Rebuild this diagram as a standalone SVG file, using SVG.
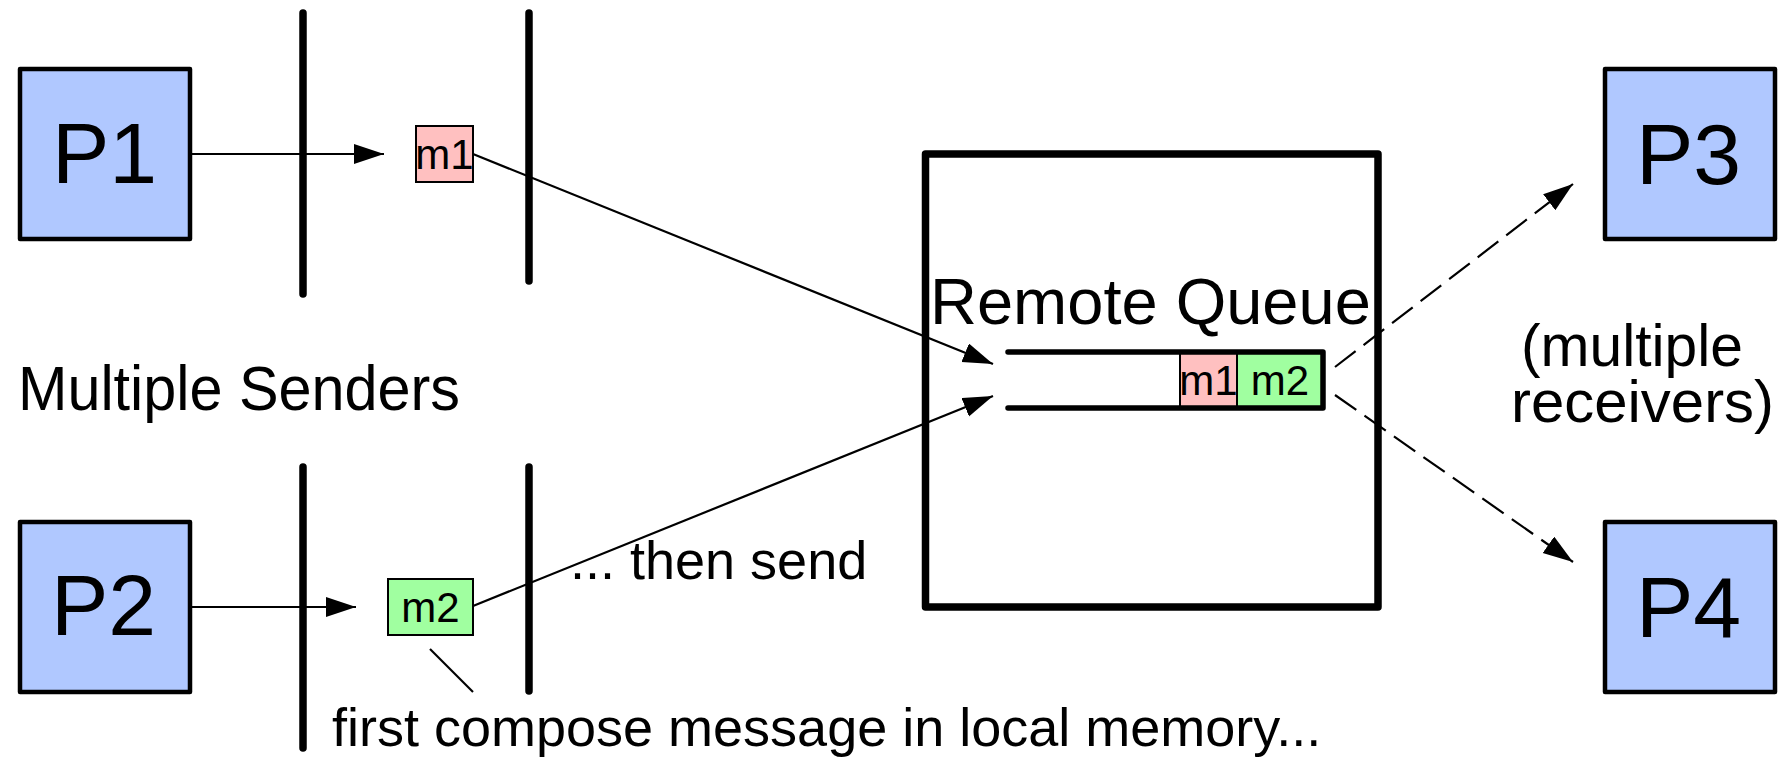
<svg xmlns="http://www.w3.org/2000/svg" width="1781" height="757" viewBox="0 0 1781 757">
  <style>
    text { font-family: "Liberation Sans", Arial, sans-serif; fill: #000; }
    .proc { fill: #b0c8ff; stroke: #000; stroke-width: 4.5; stroke-linejoin: round; }
    .proc-lbl { font-size: 86px; }
    .msg1 { fill: #ffc0c0; stroke: #000; stroke-width: 2; }
    .msg2 { fill: #a0ffa0; stroke: #000; stroke-width: 2; }
    .msg-lbl { font-size: 42px; text-anchor: middle; }
    .bar { stroke: #000; stroke-width: 7.5; stroke-linecap: round; fill: none; }
    .remote { fill: none; stroke: #000; stroke-width: 7.5; stroke-linejoin: round; }
    .queue { fill: none; stroke: #000; stroke-width: 5.5; stroke-linecap: round; stroke-linejoin: round; }
    .link { stroke: #000; stroke-width: 2.2; fill: none; }
    .dash { stroke-dasharray: 26 10; }
    .big { font-size: 63px; }
    .mid { font-size: 60px; }
    .note { font-size: 54px; }
  </style>
  <defs>
    <marker id="arrow" markerUnits="userSpaceOnUse" markerWidth="31" markerHeight="21" refX="30" refY="10" orient="auto">
      <path d="M0,0 L30,10 L0,20 Z" fill="#000"/>
    </marker>
  </defs>

  <rect width="1781" height="757" fill="#fff"/>

  <!-- address-space separators -->
  <g id="separators">
    <line class="bar" x1="303" y1="13" x2="303" y2="294"/>
    <line class="bar" x1="529" y1="13" x2="529" y2="281"/>
    <line class="bar" x1="303" y1="467" x2="303" y2="748"/>
    <line class="bar" x1="529" y1="467" x2="529" y2="691"/>
  </g>

  <g id="connectors">
    <line class="link" x1="190" y1="154" x2="384" y2="154" marker-end="url(#arrow)"/>
    <line class="link" x1="190" y1="607" x2="356" y2="607" marker-end="url(#arrow)"/>
    <line class="link" x1="473" y1="154" x2="993" y2="364" marker-end="url(#arrow)"/>
    <line class="link" x1="473" y1="606" x2="993" y2="396" marker-end="url(#arrow)"/>
    <line class="link dash" x1="1335" y1="367" x2="1573" y2="184" marker-end="url(#arrow)"/>
    <line class="link dash" x1="1335" y1="395" x2="1573" y2="562" marker-end="url(#arrow)"/>
    <line class="link" x1="430" y1="649" x2="473" y2="692"/>
  </g>

  <g id="p1">
    <rect class="proc" x="20" y="69" width="170" height="170"/>
    <text class="proc-lbl" x="52" y="183">P1</text>
  </g>
  <g id="p2">
    <rect class="proc" x="20" y="522" width="170" height="170"/>
    <text class="proc-lbl" x="51" y="635">P2</text>
  </g>
  <g id="p3">
    <rect class="proc" x="1605" y="69" width="170" height="170"/>
    <text class="proc-lbl" x="1636" y="184">P3</text>
  </g>
  <g id="p4">
    <rect class="proc" x="1605" y="522" width="170" height="170"/>
    <text class="proc-lbl" x="1636" y="637">P4</text>
  </g>

  <g id="m1-local">
    <rect class="msg1" x="416" y="126" width="57" height="56"/>
    <text class="msg-lbl" x="444.5" y="169">m1</text>
  </g>
  <g id="m2-local">
    <rect class="msg2" x="388" y="579" width="85" height="56"/>
    <text class="msg-lbl" x="430.5" y="622">m2</text>
  </g>

  <g id="remote-queue">
    <rect class="remote" x="925.5" y="154" width="452.5" height="453"/>
    <text x="930" y="324" font-size="65">Remote Queue</text>
    <rect class="msg1" x="1180" y="352" width="57" height="56"/>
    <rect class="msg2" x="1237" y="352" width="86" height="56"/>
    <text class="msg-lbl" x="1208.5" y="395">m1</text>
    <text class="msg-lbl" x="1280" y="395">m2</text>
    <path class="queue" d="M1008,352 H1323 V408 H1008"/>
  </g>

  <g id="labels">
    <text class="big" x="18" y="410" textLength="442" lengthAdjust="spacingAndGlyphs">Multiple Senders</text>
    <text class="mid" x="1521" y="366" textLength="222" lengthAdjust="spacingAndGlyphs">(multiple</text>
    <text class="mid" x="1511" y="422" textLength="263" lengthAdjust="spacingAndGlyphs">receivers)</text>
    <text class="note" x="570" y="579">... then send</text>
    <text class="note" x="332" y="746">first compose message in local memory...</text>
  </g>
</svg>
